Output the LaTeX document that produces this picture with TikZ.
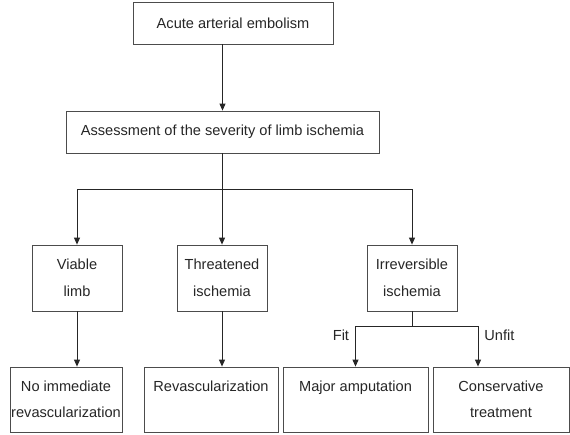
\documentclass[tikz,border=0pt]{standalone}
\usepackage{fontspec}
\setmainfont{Liberation Sans}
\usetikzlibrary{arrows.meta}
\tikzset{
  box/.style={draw=black!70, line width=0.8pt, rectangle, inner sep=0pt,
    align=center, text=black!85},
  flow/.style={draw=black!85, line width=0.9pt},
  arr/.style={flow, -{Triangle[length=7pt,width=6pt]}},
  branchlabel/.style={text=black!85, inner sep=6pt}
}
\begin{document}
\begin{tikzpicture}[x=1pt, y=-1pt, font=\fontsize{14.6}{26.5}\selectfont]
  \useasboundingbox (0,0) rectangle (570,434);
  \draw
    (233,23) node[box, minimum width=200, minimum height=42] (embolism){Acute arterial embolism}
    (222.5,132) node[box, minimum width=313, minimum height=42] (assess){Assessment of the severity of limb ischemia}
    (77,278) node[box, minimum width=90, minimum height=66] (viable){Viable\\limb}
    (222,278) node[box, minimum width=90, minimum height=66] (threat){Threatened\\ischemia}
    (412,278) node[box, minimum width=90, minimum height=66] (irrev){Irreversible\\ischemia}
    (66,399.5) node[box, minimum width=112, minimum height=65] (noimm){No immediate\\revascularization}
    (211,399.5) node[box, minimum width=134, minimum height=65] (revasc){Revascularization\\\mbox{}}
    (355.5,399.5) node[box, minimum width=145, minimum height=65] (major){Major amputation\\\mbox{}}
    (501,399.5) node[box, minimum width=136, minimum height=65] (conserv){Conservative\\treatment};
  \coordinate (split1) at (222,189);
  \coordinate (split2) at (412,326);
  \begin{scope}[arr]
    \draw (assess.north |- embolism.south) to (assess.north);
    \draw (split1) -| (viable.north);
    \draw (split1) to (threat.north);
    \draw (split1) -| (irrev.north);
    \draw (viable.south) to (viable.south |- noimm.north);
    \draw (threat.south) to (threat.south |- revasc.north);
    \draw (split2) -| node[branchlabel, pos=0.62, left]{Fit} (major.north);
    \draw (split2) -| node[branchlabel, pos=0.62, right]{Unfit} (conserv.north -| 478,0);
  \end{scope}
  \begin{scope}[flow]
    \draw (assess.south -| split1) to (split1);
    \draw (irrev.south) to (split2);
  \end{scope}
\end{tikzpicture}
\end{document}
